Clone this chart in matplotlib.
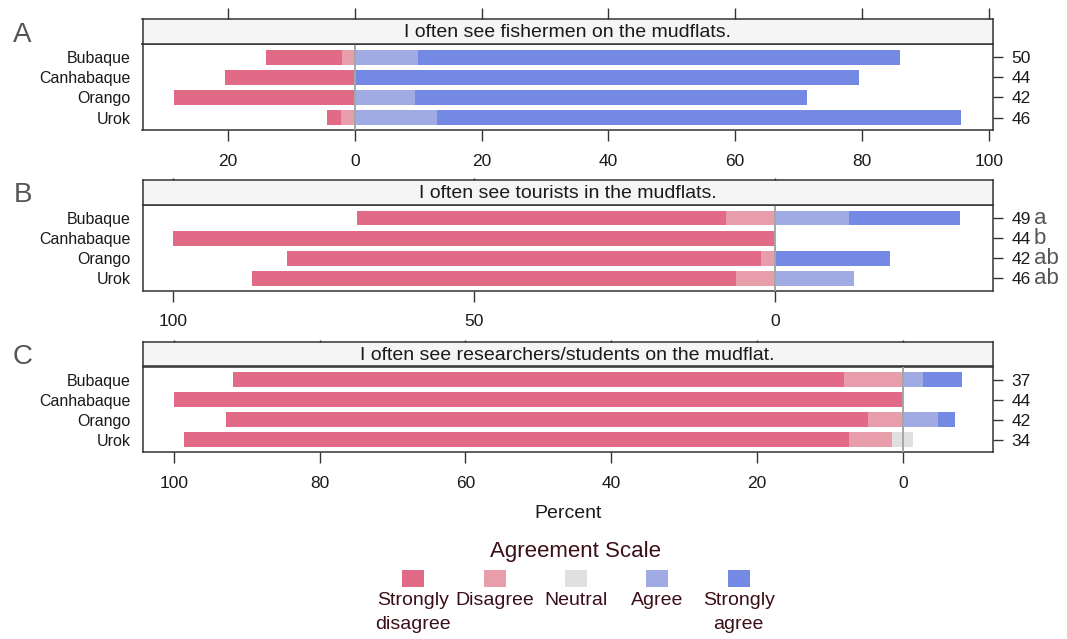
"""Diverging Likert bars for the three mudflat-use questions."""

import matplotlib.pyplot as plt
from matplotlib.patches import Rectangle
import numpy as np

plt.rcParams['font.family'] = ['Liberation Sans', 'DejaVu Sans']

sites = ['Bubaque', 'Canhabaque', 'Orango', 'Urok']
scale_labels = ['Strongly\ndisagree', 'Disagree', 'Neutral', 'Agree', 'Strongly\nagree']
colors = ['#E16A86', '#E89DAA', '#E0E0E0', '#A1ABE3', '#7489E4']

# percent of respondents per answer, rows follow `sites`
fish_sd = [12.0, 20.5, 28.6, 2.2]
fish_d = [2.0, 0.0, 0.0, 2.2]
fish_n = [0.0, 0.0, 0.0, 0.0]
fish_a = [10.0, 0.0, 9.5, 13.0]
fish_sa = [76.0, 79.5, 61.9, 82.6]
fish_count = ['50', '44', '42', '46']

tour_sd = [61.2, 100.0, 78.6, 80.4]
tour_d = [8.2, 0.0, 2.4, 6.5]
tour_n = [0.0, 0.0, 0.0, 0.0]
tour_a = [12.2, 0.0, 0.0, 13.0]
tour_sa = [18.4, 0.0, 19.0, 0.0]
tour_count = ['49', '44', '42', '46']
tour_letters = ['a', 'b', 'ab', 'ab']

res_sd = [83.8, 100.0, 88.1, 91.2]
res_d = [8.1, 0.0, 4.8, 5.9]
res_n = [0.0, 0.0, 0.0, 2.9]
res_a = [2.7, 0.0, 4.8, 0.0]
res_sa = [5.4, 0.0, 2.4, 0.0]
res_count = ['37', '44', '42', '34']

W, H = 1067, 639
fig = plt.figure(figsize=(W / 100, H / 100), dpi=100)


def px_axes(left, top, right, bottom):
    return fig.add_axes([left / W, 1 - bottom / H, (right - left) / W, (bottom - top) / H])


panels = [
    dict(letter='A', title='I often see fishermen on the mudflats.',
         data=(fish_sd, fish_d, fish_n, fish_a, fish_sa), counts=fish_count, letters=None,
         xlim=(-33.5, 100.6), xticks=[-20, 0, 20, 40, 60, 80, 100],
         strip=(19, 44), main=(44, 130), top_tick=8.0),
    dict(letter='B', title='I often see tourists in the mudflats.',
         data=(tour_sd, tour_d, tour_n, tour_a, tour_sa), counts=tour_count, letters=tour_letters,
         xlim=(-105.0, 36.0), xticks=[-100, -50, 0],
         strip=(180, 205), main=(205, 290.5), top_tick=1.8),
    dict(letter='C', title='I often see researchers/students on the mudflat.',
         data=(res_sd, res_d, res_n, res_a, res_sa), counts=res_count, letters=None,
         xlim=(-104.3, 12.3), xticks=[-100, -80, -60, -40, -20, 0],
         strip=(342, 366.5), main=(366.5, 452), top_tick=1.8),
]

LEFT, RIGHT = 142.5, 992.5
EDGE = '#333333'
TXT = '#1a1a1a'

for p in panels:
    sd, d, n, a, sa = (np.asarray(v) for v in p['data'])
    y = np.arange(len(sites))
    half = n / 2

    ax = px_axes(LEFT, p['main'][0], RIGHT, p['main'][1])
    h = 0.74
    ax.barh(y, sd, left=-half - d - sd, height=h, color=colors[0], lw=0)
    ax.barh(y, d, left=-half - d, height=h, color=colors[1], lw=0)
    ax.barh(y, n, left=-half, height=h, color=colors[2], lw=0)
    ax.barh(y, a, left=half, height=h, color=colors[3], lw=0)
    ax.barh(y, sa, left=half + a, height=h, color=colors[4], lw=0)
    ax.axvline(0, color='#A6A6A6', lw=1.4, zorder=3)

    ax.set_xlim(*p['xlim'])
    ax.set_ylim(3.61, -0.65)
    ax.set_xticks(p['xticks'], [str(abs(t)) for t in p['xticks']])
    ax.tick_params(axis='x', direction='out', length=7.7, width=1.0, pad=9.4,
                   labelsize=12.5, colors=EDGE, labelcolor=TXT)
    ax.set_yticks(y, sites)
    ax.tick_params(axis='y', length=0, pad=8.3, labelsize=11.5, labelcolor=TXT)
    for s in ax.spines.values():
        s.set_color(EDGE)
        s.set_linewidth(1.1)

    ax2 = ax.twinx()
    ax2.set_ylim(ax.get_ylim())
    ax2.set_yticks(y, p['counts'])
    ax2.tick_params(axis='y', direction='out', length=7.2, width=1.0, pad=6.5,
                    labelsize=12.5, colors=EDGE, labelcolor=TXT)
    for s in ax2.spines.values():
        s.set_visible(False)
    if p['letters']:
        for yi, lt in zip(y, p['letters']):
            ax2.text((1034 - LEFT) / (RIGHT - LEFT), yi, lt, transform=ax2.get_yaxis_transform(),
                     ha='left', va='center', fontsize=16, color='#555555')

    sax = px_axes(LEFT, p['strip'][0], RIGHT, p['strip'][1])
    sax.set_facecolor('#F5F5F5')
    sax.set_xlim(*p['xlim'])
    sax.set_ylim(0, 1)
    sax.set_yticks([])
    sax.set_xticks(p['xticks'], [])
    sax.tick_params(axis='x', bottom=False, top=True, direction='out',
                    length=p['top_tick'], width=1.0, colors=EDGE)
    for s in sax.spines.values():
        s.set_color(EDGE)
        s.set_linewidth(1.1)
    sax.text(0.5, 0.45, p['title'], transform=sax.transAxes, ha='center', va='center',
             fontsize=14, color=TXT)

    top = p['strip'][0]
    fig.text(22.5 / W, 1 - (top + 15.5) / H, p['letter'], ha='center', va='center',
             fontsize=20, color='#555555')

fig.text(568 / W, 1 - 514 / H, 'Percent', ha='center', va='center', fontsize=14, color=TXT)

# legend
LEG = '#3a0f18'
lax = fig.add_axes([0, 0, 1, 1], zorder=-1)
lax.set_xlim(0, W)
lax.set_ylim(H, 0)
lax.axis('off')
lax.text(576, 551.5, 'Agreement Scale', ha='center', va='center', fontsize=16, color=LEG)
for i, (lab, col) in enumerate(zip(scale_labels, colors)):
    cx = 576 + (i - 2) * 81.4
    lax.add_patch(Rectangle((cx - 11, 570), 22, 17, color=col, lw=0))
    lax.text(cx, 592, lab, ha='center', va='top', fontsize=14, color=LEG, linespacing=1.55)

fig.savefig('out.png', dpi=100)
